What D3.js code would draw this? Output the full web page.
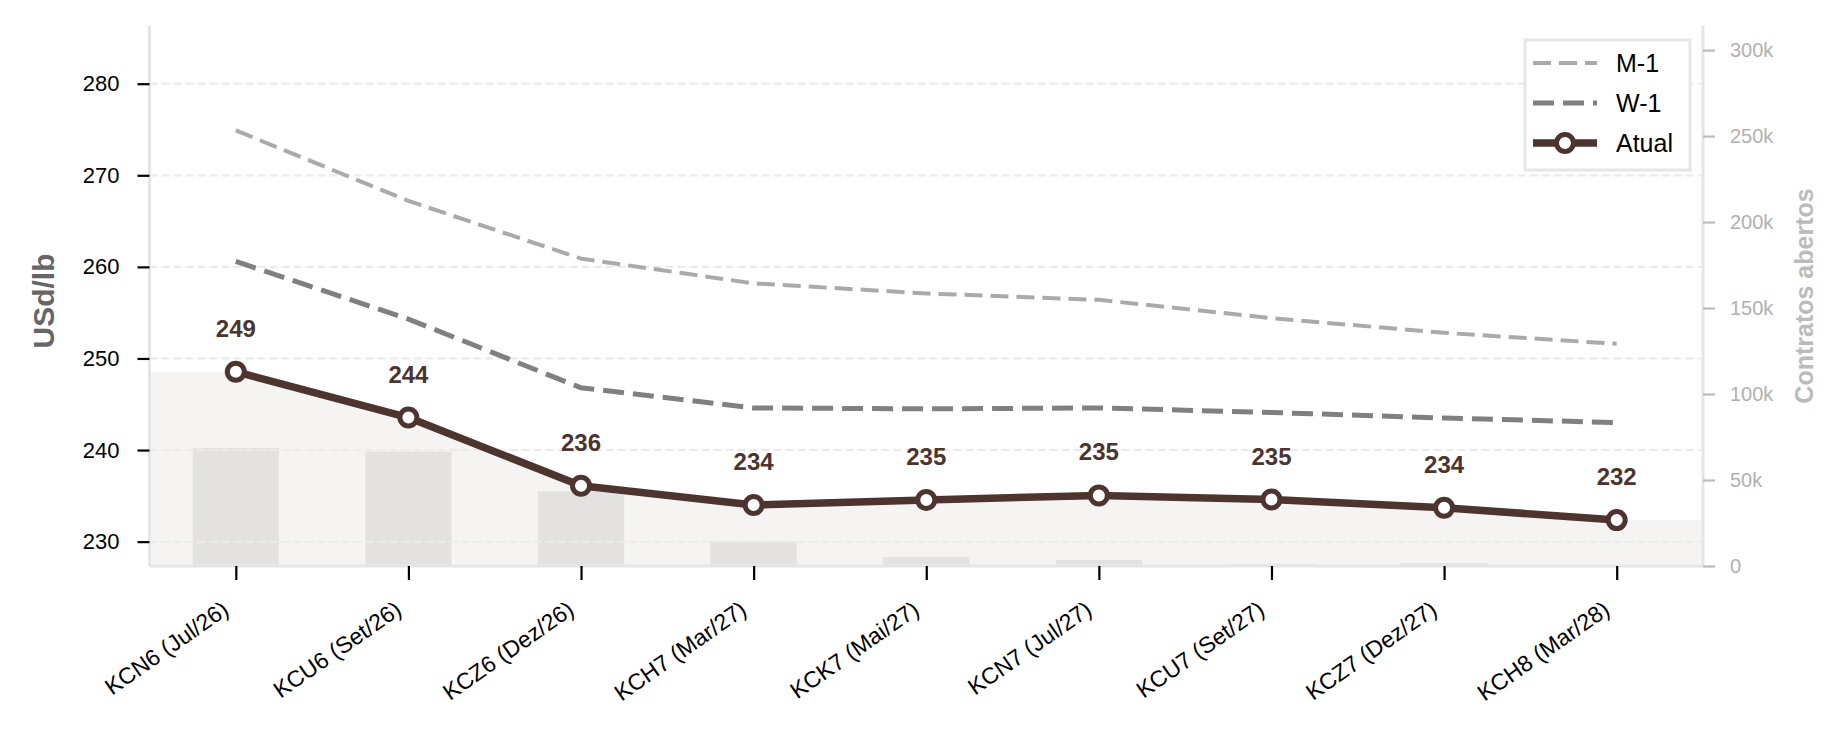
<!DOCTYPE html>
<html>
<head>
<meta charset="utf-8">
<script src="https://cdn.jsdelivr.net/npm/d3@7"></script>
<style>
    body { margin: 0; background: #fff; }
    svg { display: block; font-family: "Liberation Sans", Arial, sans-serif; }
</style>
</head>
<body>
<div id="chart"></div>
<script>
const contracts = ["KCN6 (Jul/26)", "KCU6 (Set/26)", "KCZ6 (Dez/26)", "KCH7 (Mar/27)", "KCK7 (Mai/27)",
                   "KCN7 (Jul/27)", "KCU7 (Set/27)", "KCZ7 (Dez/27)", "KCH8 (Mar/28)"];
const atual = [248.55, 243.55, 236.1, 234.0, 234.55, 235.05, 234.6, 233.7, 232.35];
const w1 = [260.6, 254.3, 246.8, 244.6, 244.5, 244.6, 244.1, 243.5, 243.0];
const m1 = [274.9, 267.2, 260.9, 258.2, 257.1, 256.4, 254.4, 252.8, 251.6];
const openInterest = [68700, 66500, 43400, 14400, 5200, 3500, 1200, 1700, 300];
const priceTicks = [230, 240, 250, 260, 270, 280];
const oiTicks = [0, 50000, 100000, 150000, 200000, 250000, 300000];

const W = 1846, H = 734;
const plot = { left: 149.5, right: 1703, top: 26, bottom: 566 };
const brown = "#4e342e";

const svg = d3.select("#chart").append("svg")
    .attr("width", W)
    .attr("height", H);

const x = d3.scaleLinear().domain([-0.5, contracts.length - 0.5]).range([plot.left, plot.right]);
const y = d3.scaleLinear().domain([227.34, 286.3]).range([plot.bottom, plot.top]);
const y2 = d3.scaleLinear().domain([0, 314000]).range([plot.bottom, plot.top]);

// area under the current curve, stretched to the plot edges
const areaPts = [{ i: -0.5, v: atual[0] }]
    .concat(atual.map((v, i) => ({ i: i, v: v })))
    .concat([{ i: contracts.length - 0.5, v: atual[atual.length - 1] }]);

svg.append("path")
    .datum(areaPts)
    .attr("fill", "#f5f4f2")
    .attr("d", d3.area().x(d => x(d.i)).y0(plot.bottom).y1(d => y(d.v)));

// open interest bars
const bw = x(0.25) - x(-0.25);
svg.selectAll(".bar")
    .data(openInterest)
    .enter()
    .append("rect")
        .attr("x", (d, i) => x(i) - bw / 2)
        .attr("y", d => y2(d))
        .attr("width", bw)
        .attr("height", d => plot.bottom - y2(d))
        .style("fill", "#e3e2e0");

// grid
svg.selectAll(".grid")
    .data(priceTicks)
    .enter()
    .append("line")
        .attr("x1", plot.left).attr("x2", plot.right)
        .attr("y1", d => y(d)).attr("y2", d => y(d))
        .style("stroke", "#ebebeb")
        .style("stroke-width", 2.2)
        .style("stroke-dasharray", "8,4");

// spines
const spine = [[plot.left, plot.top, plot.left, plot.bottom],
               [plot.left, plot.bottom, plot.right, plot.bottom],
               [plot.right, plot.top, plot.right, plot.bottom]];
svg.selectAll(".spine")
    .data(spine)
    .enter()
    .append("line")
        .attr("x1", d => d[0]).attr("y1", d => d[1])
        .attr("x2", d => d[2]).attr("y2", d => d[3])
        .style("stroke", "#e5e5e5")
        .style("stroke-width", 3);

// comparison curves
const line = d3.line().x((d, i) => x(i)).y(d => y(d));

svg.append("path")
    .datum(m1)
    .attr("d", line)
    .attr("fill", "none")
    .style("stroke", "#aaaaaa")
    .style("stroke-width", 4)
    .style("stroke-dasharray", "18,8");

svg.append("path")
    .datum(w1)
    .attr("d", line)
    .attr("fill", "none")
    .style("stroke", "#808080")
    .style("stroke-width", 5)
    .style("stroke-dasharray", "21,9");

svg.append("path")
    .datum(atual)
    .attr("d", line)
    .attr("fill", "none")
    .style("stroke", brown)
    .style("stroke-width", 7.5)
    .style("stroke-linejoin", "round");

svg.selectAll(".pt")
    .data(atual)
    .enter()
    .append("circle")
        .attr("cx", (d, i) => x(i))
        .attr("cy", d => y(d))
        .attr("r", 8.5)
        .style("fill", "#fff")
        .style("stroke", brown)
        .style("stroke-width", 5);

svg.selectAll(".lbl")
    .data(atual)
    .enter()
    .append("text")
        .attr("x", (d, i) => x(i))
        .attr("y", d => y(d) - 35)
        .attr("text-anchor", "middle")
        .style("font-size", "24px")
        .style("font-weight", "bold")
        .style("fill", brown)
        .text(d => d3.format(".0f")(d));

// axes
const gl = svg.append("g")
    .attr("transform", "translate(" + plot.left + ",0)")
    .call(d3.axisLeft(y).tickValues(priceTicks).tickSize(12).tickPadding(18));
gl.select(".domain").remove();
gl.selectAll(".tick line").style("stroke", "#000").style("stroke-width", 2.2);
gl.selectAll(".tick text").style("font-size", "22px").style("fill", "#000")
    .style("font-family", "Liberation Sans, Arial, sans-serif");

const gr = svg.append("g")
    .attr("transform", "translate(" + plot.right + ",0)")
    .call(d3.axisRight(y2).tickValues(oiTicks)
        .tickFormat(d => d === 0 ? "0" : (d / 1000) + "k")
        .tickSize(12).tickPadding(15));
gr.select(".domain").remove();
gr.selectAll(".tick line").style("stroke", "#bbbbbb").style("stroke-width", 2.2);
gr.selectAll(".tick text").style("font-size", "20px").style("fill", "#b0b0b0")
    .style("font-family", "Liberation Sans, Arial, sans-serif");

const gb = svg.append("g")
    .attr("transform", "translate(0," + plot.bottom + ")")
    .call(d3.axisBottom(x).tickValues(d3.range(contracts.length))
        .tickFormat(i => contracts[i]).tickSize(14));
gb.select(".domain").remove();
gb.selectAll(".tick line").style("stroke", "#000").style("stroke-width", 2.2);
gb.selectAll(".tick text")
    .attr("x", 0).attr("y", 0).attr("dy", null)
    .attr("text-anchor", "end")
    .attr("transform", "translate(-6,47) rotate(-35)")
    .style("font-size", "23px").style("fill", "#000")
    .style("font-family", "Liberation Sans, Arial, sans-serif");

// axis titles
svg.append("text")
    .attr("transform", "translate(54,301) rotate(-90)")
    .attr("text-anchor", "middle")
    .style("font-size", "30px")
    .style("font-weight", "bold")
    .style("fill", "#666")
    .text("USd/lb");

svg.append("text")
    .attr("transform", "translate(1813," + (plot.top + plot.bottom) / 2 + ") rotate(-90)")
    .attr("text-anchor", "middle")
    .style("font-size", "25px")
    .style("font-weight", "bold")
    .style("fill", "#bbbbbb")
    .text("Contratos abertos");

// legend
const legendItems = [
    { name: "M-1", color: "#aaaaaa", width: 4, dash: "18,8", marker: false },
    { name: "W-1", color: "#808080", width: 5, dash: "21,9", marker: false },
    { name: "Atual", color: brown, width: 7.5, dash: null, marker: true }
];
const lg = svg.append("g");
lg.append("rect")
    .attr("x", 1525).attr("y", 40)
    .attr("width", 165).attr("height", 130)
    .style("fill", "#fff")
    .style("stroke", "#e6e6e6")
    .style("stroke-width", 3);

const rows = lg.selectAll(".row")
    .data(legendItems)
    .enter()
    .append("g")
        .attr("transform", (d, i) => "translate(1533," + (63 + i * 40) + ")");
rows.append("line")
    .attr("x1", 0).attr("x2", 64)
    .style("stroke", d => d.color)
    .style("stroke-width", d => d.width)
    .style("stroke-dasharray", d => d.dash);
rows.filter(d => d.marker).append("circle")
    .attr("cx", 32).attr("r", 8.5)
    .style("fill", "#fff")
    .style("stroke", brown)
    .style("stroke-width", 5);
rows.append("text")
    .attr("x", 83)
    .attr("dy", "0.35em")
    .style("font-size", "25px")
    .style("fill", "#000")
    .text(d => d.name);
</script>
</body>
</html>
